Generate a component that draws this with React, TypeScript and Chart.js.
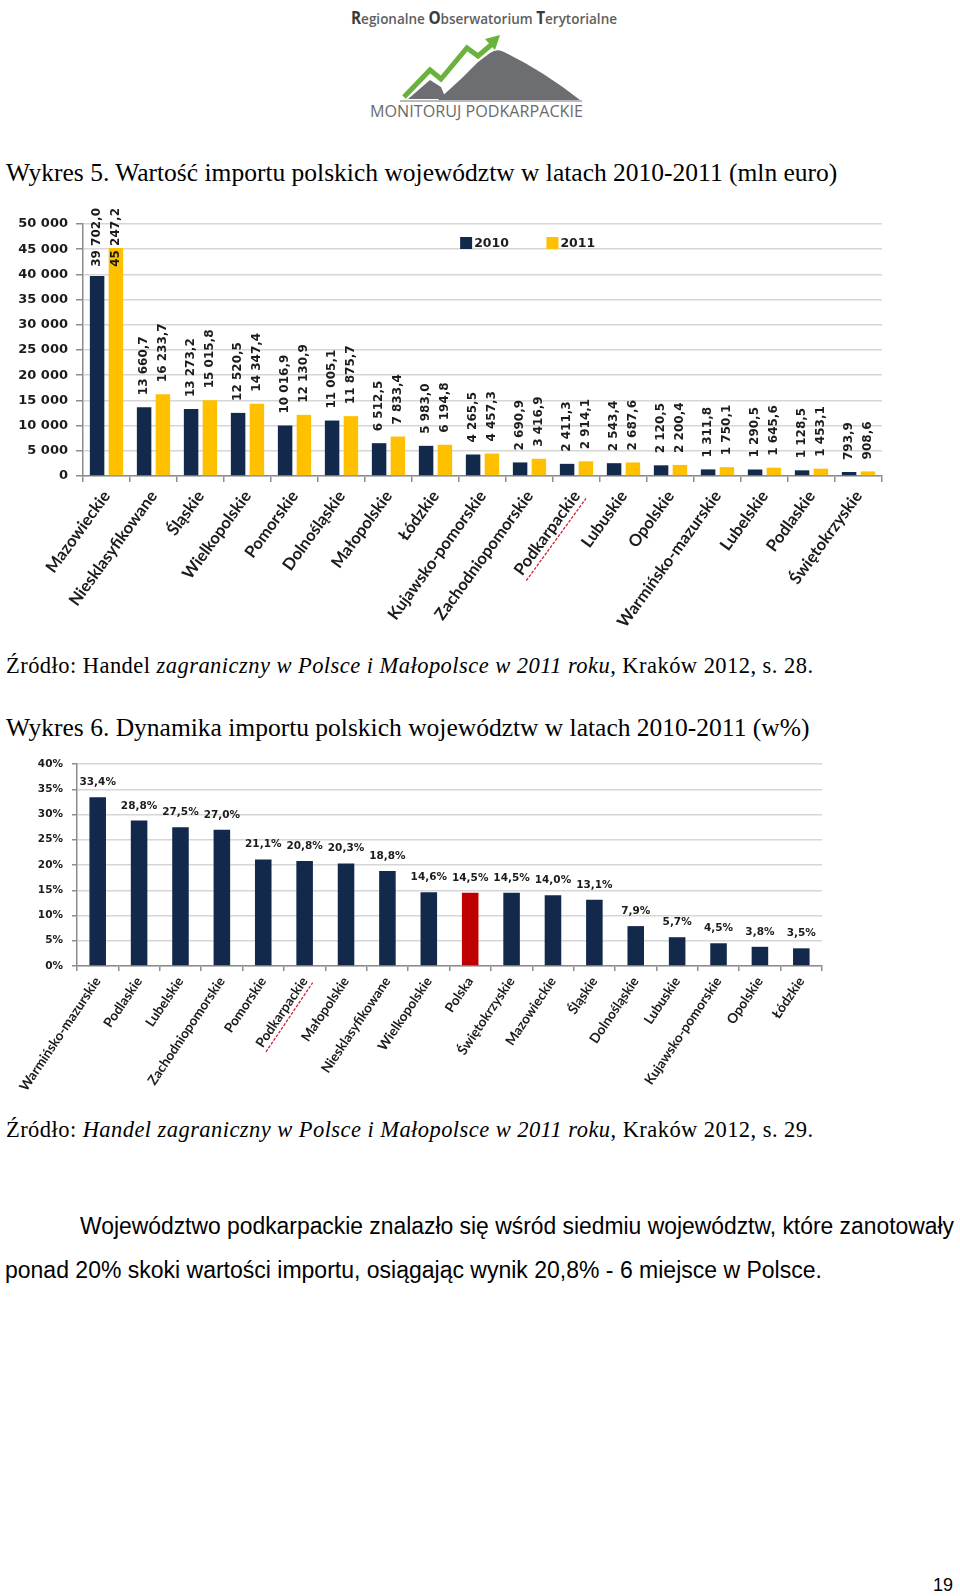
import React, { useEffect, useRef } from 'react';
import { Chart, registerables } from 'chart.js';

Chart.register(...registerables);

// ---------- DATA ----------
const regions1 = [
  'Mazowieckie', 'Niesklasyfikowane', 'Śląskie', 'Wielkopolskie', 'Pomorskie',
  'Dolnośląskie', 'Małopolskie', 'Łódzkie', 'Kujawsko-pomorskie', 'Zachodniopomorskie',
  'Podkarpackie', 'Lubuskie', 'Opolskie', 'Warmińsko-mazurskie', 'Lubelskie',
  'Podlaskie', 'Świętokrzyskie',
];
const import2010 = [
  39702.0, 13660.7, 13273.2, 12520.5, 10016.9, 11005.1, 6512.5, 5983.0, 4265.5,
  2690.9, 2411.3, 2543.4, 2120.5, 1311.8, 1290.5, 1128.5, 793.9,
];
const import2011 = [
  45247.2, 16233.7, 15015.8, 14347.4, 12130.9, 11875.7, 7833.4, 6194.8, 4457.3,
  3416.9, 2914.1, 2687.6, 2200.4, 1750.1, 1645.6, 1453.1, 908.6,
];
const seriesNames = ['2010', '2011'];
const importAxis = { min: 0, max: 50000, step: 5000 };

const regions2 = [
  'Warmińsko-mazurskie', 'Podlaskie', 'Lubelskie', 'Zachodniopomorskie', 'Pomorskie',
  'Podkarpackie', 'Małopolskie', 'Niesklasyfikowane', 'Wielkopolskie', 'Polska',
  'Świętokrzyskie', 'Mazowieckie', 'Śląskie', 'Dolnośląskie', 'Lubuskie',
  'Kujawsko-pomorskie', 'Opolskie', 'Łódzkie',
];
const dynamics = [
  33.4, 28.8, 27.5, 27.0, 21.1, 20.8, 20.3, 18.8, 14.6, 14.5, 14.5, 14.0, 13.1,
  7.9, 5.7, 4.5, 3.8, 3.5,
];
const dynamicsAxis = { min: 0, max: 40, step: 5 };
const highlightRegion = 'Podkarpackie';
const countryLabel = 'Polska';

// ---------- STYLE ----------
const NAVY = '#13294b';
const GOLD = '#ffc000';
const RED = '#c00000';
const GRID = '#d6d6d6';
const AXIS = '#8c8c8c';
const TEXT = '#1c1c1c';
const NUM_FONT = '"DejaVu Sans", Verdana, sans-serif';
const CAT_FONT = 'Lato, "Open Sans", sans-serif';

function fmtNum(v: number, d: number): string {
  const [i, f] = v.toFixed(d).split('.');
  const ii = i.replace(/\B(?=(\d{3})+(?!\d))/g, ' ');
  return f !== undefined ? ii + ',' + f : ii;
}

function underlinePlugin(label: string, offset: number) {
  return {
    id: 'underline',
    afterDraw(chart: any) {
      const scale = chart.scales.x;
      const idx = chart.data.labels.indexOf(label);
      if (idx < 0) return;
      const items = scale.getLabelItems();
      const item = items[idx];
      if (!item) return;
      const ctx = chart.ctx;
      ctx.save();
      ctx.font = item.font.string;
      const w = ctx.measureText(label).width;
      const [tx, ty] = item.options.translation;
      ctx.translate(tx, ty);
      ctx.rotate(item.options.rotation);
      ctx.strokeStyle = '#d3202f';
      ctx.lineWidth = 1.3;
      ctx.setLineDash([3, 1.5]);
      ctx.beginPath();
      ctx.moveTo(-w - 1, item.textOffset + offset);
      ctx.lineTo(1, item.textOffset + offset);
      ctx.stroke();
      ctx.restore();
    },
  };
}

function ImportChart() {
  const ref = useRef<HTMLCanvasElement>(null);
  useEffect(() => {
    if (!ref.current) return;
    const labelsPlugin = {
      id: 'vlabels',
      afterDatasetsDraw(chart: any) {
        const { ctx, chartArea } = chart;
        ctx.save();
        ctx.font = `bold 12px ${NUM_FONT}`;
        ctx.fillStyle = TEXT;
        ctx.textBaseline = 'middle';
        ctx.textAlign = 'left';
        chart.data.datasets.forEach((ds: any, di: number) => {
          const meta = chart.getDatasetMeta(di);
          meta.data.forEach((bar: any, i: number) => {
            const text = fmtNum(ds.data[i], 1);
            const w = ctx.measureText(text).width;
            let start = bar.y - 12;
            const minTop = chartArea.top - 16;
            if (start - w < minTop) start = minTop + w;
            ctx.save();
            ctx.translate(bar.x, start);
            ctx.rotate(-Math.PI / 2);
            ctx.fillText(text, 0, 0);
            ctx.restore();
          });
        });
        ctx.restore();
      },
    };
    const legendPlugin = {
      id: 'innerLegend',
      afterDraw(chart: any) {
        const { ctx, chartArea } = chart;
        const w = chartArea.right - chartArea.left;
        const positions = [0.472, 0.58];
        const yc = chartArea.top + 19;
        ctx.save();
        ctx.font = `bold 12.5px ${NUM_FONT}`;
        ctx.textBaseline = 'middle';
        ctx.textAlign = 'left';
        chart.data.datasets.forEach((ds: any, di: number) => {
          const x = chartArea.left + positions[di] * w;
          ctx.fillStyle = ds.backgroundColor;
          ctx.fillRect(x, yc - 6, 12, 12);
          ctx.fillStyle = TEXT;
          ctx.fillText(ds.label, x + 14, yc + 0.5);
        });
        ctx.restore();
      },
    };
    const chart = new Chart(ref.current, {
      type: 'bar',
      data: {
        labels: regions1,
        datasets: [
          { label: seriesNames[0], data: import2010, backgroundColor: NAVY, categoryPercentage: 0.8, barPercentage: 0.77 },
          { label: seriesNames[1], data: import2011, backgroundColor: GOLD, categoryPercentage: 0.8, barPercentage: 0.77 },
        ],
      },
      options: {
        responsive: true,
        maintainAspectRatio: false,
        animation: false,
        layout: { padding: { top: 29, right: 18, left: 0, bottom: 0 } },
        plugins: { legend: { display: false }, tooltip: { enabled: false } },
        scales: {
          x: {
            grid: { drawOnChartArea: false, drawTicks: true, tickLength: 6, color: AXIS, lineWidth: 1.5, offset: true },
            border: { color: AXIS, width: 1.5 },
            ticks: {
              minRotation: 54, maxRotation: 54, autoSkip: false, padding: 5,
              color: TEXT, font: { family: CAT_FONT, size: 16.5, weight: 'bold' },
            },
            afterFit: (s: any) => { s.height = 154; },
          },
          y: {
            min: importAxis.min, max: importAxis.max,
            grid: { color: GRID, lineWidth: 1.5, tickLength: 7, tickColor: AXIS },
            border: { color: AXIS, width: 1.5 },
            ticks: {
              stepSize: importAxis.step, padding: 8, color: TEXT,
              font: { family: NUM_FONT, size: 13, weight: 'bold' },
              callback: (v: any) => fmtNum(Number(v), 0),
            },
            afterFit: (s: any) => { s.width = 83; },
          },
        },
      } as any,
      plugins: [labelsPlugin, legendPlugin, underlinePlugin(highlightRegion, 11)],
    });
    return () => chart.destroy();
  }, []);
  return (
    <div style={{ position: 'absolute', left: 0, top: 195, width: 900, height: 435 }}>
      <canvas ref={ref} />
    </div>
  );
}

function DynamicsChart() {
  const ref = useRef<HTMLCanvasElement>(null);
  useEffect(() => {
    if (!ref.current) return;
    const labelsPlugin = {
      id: 'hlabels',
      afterDatasetsDraw(chart: any) {
        const { ctx } = chart;
        ctx.save();
        ctx.font = `bold 10.5px ${NUM_FONT}`;
        ctx.fillStyle = TEXT;
        ctx.textBaseline = 'alphabetic';
        ctx.textAlign = 'center';
        const ds = chart.data.datasets[0];
        chart.getDatasetMeta(0).data.forEach((bar: any, i: number) => {
          ctx.fillText(fmtNum(ds.data[i], 1) + '%', bar.x, bar.y - 12);
        });
        ctx.restore();
      },
    };
    const chart = new Chart(ref.current, {
      type: 'bar',
      data: {
        labels: regions2,
        datasets: [
          {
            label: 'Dynamika',
            data: dynamics,
            backgroundColor: regions2.map((r) => (r === countryLabel ? RED : NAVY)),
            categoryPercentage: 0.8,
            barPercentage: 0.5,
          },
        ],
      },
      options: {
        responsive: true,
        maintainAspectRatio: false,
        animation: false,
        layout: { padding: { top: 24, right: 18, left: 0, bottom: 0 } },
        plugins: { legend: { display: false }, tooltip: { enabled: false } },
        scales: {
          x: {
            grid: { drawOnChartArea: false, drawTicks: true, tickLength: 5, color: AXIS, lineWidth: 1.5, offset: true },
            border: { color: AXIS, width: 1.5 },
            ticks: {
              minRotation: 56, maxRotation: 56, autoSkip: false, padding: 3,
              color: TEXT, font: { family: CAT_FONT, size: 13.5, weight: 'bold' },
            },
            afterFit: (s: any) => { s.height = 129; },
          },
          y: {
            min: dynamicsAxis.min, max: dynamicsAxis.max,
            grid: { color: GRID, lineWidth: 1.5, tickLength: 5, tickColor: AXIS },
            border: { color: AXIS, width: 1.5 },
            ticks: {
              stepSize: dynamicsAxis.step, padding: 9, color: TEXT,
              font: { family: NUM_FONT, size: 10.5, weight: 'bold' },
              callback: (v: any) => `${v}%`,
            },
            afterFit: (s: any) => { s.width = 77; },
          },
        },
      } as any,
      plugins: [labelsPlugin, underlinePlugin(highlightRegion, 9)],
    });
    return () => chart.destroy();
  }, []);
  return (
    <div style={{ position: 'absolute', left: 0, top: 740, width: 840, height: 355 }}>
      <canvas ref={ref} />
    </div>
  );
}

function PageText() {
  const serif = '"Liberation Serif", "Times New Roman", serif';
  const sans = '"Liberation Sans", Arial, sans-serif';
  return (
    <svg style={{ position: 'absolute', left: 0, top: 0 }} width={960} height={1596}>
      {/* logo */}
      <text x={351} y={24} fontFamily='"Open Sans", sans-serif' fontSize={15} fontWeight={600} fill="#5e5e5e"
        textLength={266} lengthAdjust="spacingAndGlyphs">
        <tspan fill="#3a3a3a" fontWeight={700} fontSize={17}>R</tspan>egionalne{' '}
        <tspan fill="#3a3a3a" fontWeight={700} fontSize={17}>O</tspan>bserwatorium{' '}
        <tspan fill="#3a3a3a" fontWeight={700} fontSize={17}>T</tspan>erytorialne
      </text>
      <path d="M438 100 L462 78 L478 62 L490 53 Q497 48 504 52 Q542 70 580 100 Z" fill="#6d6e71" />
      <path d="M408 99 L430 80 L441 87 L446 99 Z" fill="#6d6e71" />
      <polyline points="404,97 430,70 441,79 467,48 478,56 491,45" stroke="#6ab23c" strokeWidth={5}
        fill="none" strokeLinejoin="miter" />
      <polygon points="500,35 485,39 495,50" fill="#6ab23c" />
      <line x1={400} y1={101} x2={582} y2={101} stroke="#a3a3a3" strokeWidth={1.5} />
      <text x={370} y={117} fontFamily='"Open Sans", sans-serif' fontSize={17} fill="#6b6b6b"
        textLength={213} lengthAdjust="spacingAndGlyphs">MONITORUJ PODKARPACKIE</text>

      {/* titles & sources */}
      <text x={6} y={181} fontFamily={serif} fontSize={25.5} fill="#000">
        Wykres 5. Wartość importu polskich województw w latach 2010-2011 (mln euro)
      </text>
      <text x={6} y={673} fontFamily={serif} fontSize={22.5} fill="#000" textLength={807} lengthAdjust="spacing">
        Źródło: Handel <tspan fontStyle="italic">zagraniczny w Polsce i Małopolsce w 2011 roku</tspan>, Kraków 2012, s. 28.
      </text>
      <text x={6} y={736} fontFamily={serif} fontSize={25.5} fill="#000">
        Wykres 6. Dynamika importu polskich województw w latach 2010-2011 (w%)
      </text>
      <text x={6} y={1137} fontFamily={serif} fontSize={22.5} fill="#000" textLength={807} lengthAdjust="spacing">
        Źródło: <tspan fontStyle="italic">Handel zagraniczny w Polsce i Małopolsce w 2011 roku</tspan>, Kraków 2012, s. 29.
      </text>

      {/* paragraph */}
      <text x={80} y={1234} fontFamily={sans} fontSize={23} fill="#000" textLength={874} lengthAdjust="spacingAndGlyphs">
        Województwo podkarpackie znalazło się wśród siedmiu województw, które zanotowały
      </text>
      <text x={5} y={1278} fontFamily={sans} fontSize={23} fill="#000">
        ponad 20% skoki wartości importu, osiągając wynik 20,8% - 6 miejsce w Polsce.
      </text>
      <text x={933} y={1591} fontFamily={sans} fontSize={18} fill="#000">19</text>
    </svg>
  );
}

export default function App() {
  return (
    <div style={{ position: 'relative', width: 960, height: 1596, background: '#fff', overflow: 'hidden' }}>
      <style>{`body{margin:0;}`}</style>
      <PageText />
      <ImportChart />
      <DynamicsChart />
    </div>
  );
}
